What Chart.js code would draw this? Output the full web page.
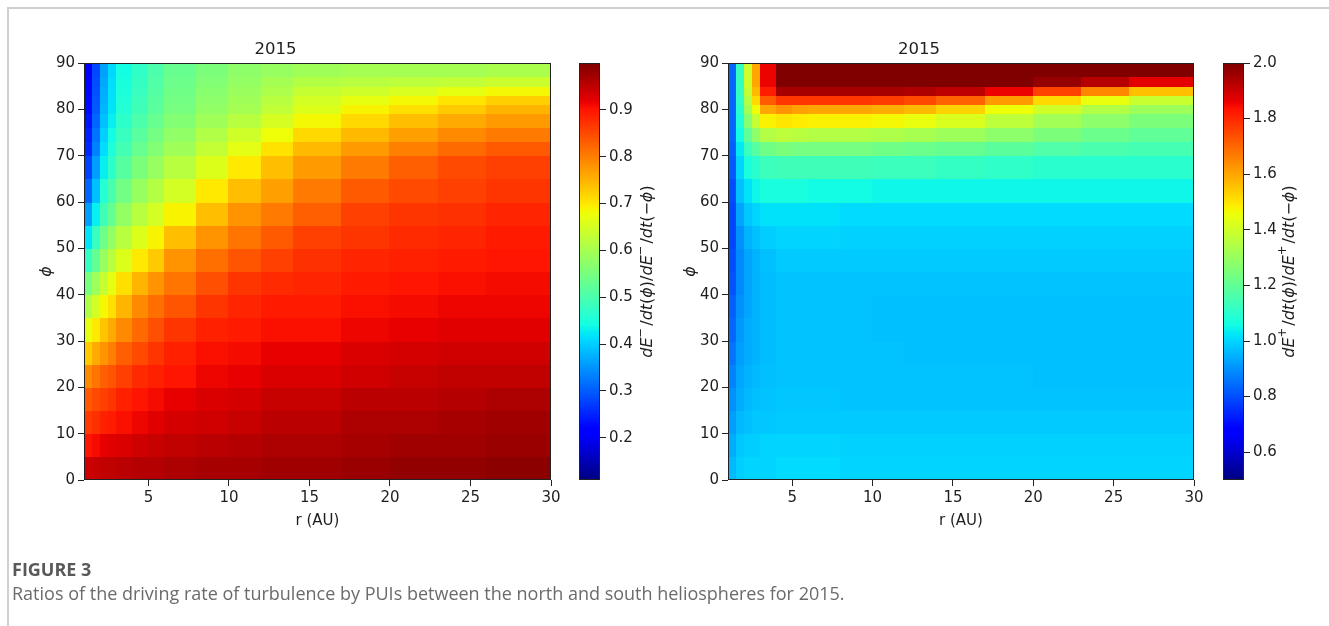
<!DOCTYPE html>
<html><head><meta charset="utf-8">
<script src="https://cdn.jsdelivr.net/npm/chart.js@4.4.0/dist/chart.umd.min.js"></script>
<style>
html,body{margin:0;padding:0;background:#fff;width:1329px;height:626px;overflow:hidden;position:relative;font-family:'Open Sans','Noto Sans',sans-serif}
canvas{position:absolute;left:0;top:0}
#frame{position:absolute;left:7px;top:7px;width:1340px;height:640px;border-top:2px solid #d0d0d0;border-left:2px solid #d0d0d0}
#figlabel{position:absolute;left:12px;top:557px;font-weight:700;font-size:18px;line-height:24px;color:#595959}
#caption{position:absolute;left:12px;top:581px;font-size:18px;line-height:24px;color:#6b6b6b}
</style></head><body>
<div id="frame"></div>
<canvas id="pL" width="1329" height="626"></canvas>
<canvas id="cbL" width="1329" height="626"></canvas>
<canvas id="pR" width="1329" height="626"></canvas>
<canvas id="cbR" width="1329" height="626"></canvas>
<div id="figlabel">FIGURE 3</div>
<div id="caption">Ratios of the driving rate of turbulence by PUIs between the north and south heliospheres for 2015.</div>
<script>
// ---------- data ----------
const title = '2015';
// cell edges (r in AU, phi in degrees)
const rEdges = [1,1.5,2,2.5,3,4,5,6,8,10,12,14,17,20,23,26,30];
const phiEdges = [0,5,10,15,20,25,30,35,40,45,50,55,60,65,70,73,76,79,81,83,85,87,90];
const xTicks = [5,10,15,20,25,30];
const phiTicks = [0,10,20,30,40,50,60,70,80,90];
const cbLeftTicks = [0.2,0.3,0.4,0.5,0.6,0.7,0.8,0.9];
const cbRightTicks = [0.6,0.8,1.0,1.2,1.4,1.6,1.8,2.0];
const leftRange = [0.11, 1.0];
const rightRange = [0.5, 2.0];
// left panel: dE-/dt(phi)/dE-/dt(-phi); one array per r cell, phi cells from bottom to top
const leftGrid = [
 [0.94,0.90,0.865,0.835,0.79,0.73,0.67,0.61,0.55,0.48,0.42,0.36,0.31,0.28,0.255,0.247,0.238,0.23,0.228,0.226,0.224,0.22],
 [0.945,0.91,0.875,0.85,0.81,0.76,0.70,0.65,0.59,0.53,0.48,0.43,0.39,0.36,0.334,0.322,0.31,0.30,0.296,0.292,0.288,0.283],
 [0.95,0.92,0.89,0.86,0.83,0.78,0.735,0.685,0.635,0.585,0.54,0.49,0.46,0.43,0.414,0.402,0.39,0.38,0.376,0.372,0.368,0.363],
 [0.95,0.925,0.895,0.87,0.84,0.80,0.76,0.71,0.67,0.62,0.58,0.53,0.50,0.47,0.454,0.442,0.43,0.42,0.418,0.416,0.414,0.411],
 [0.955,0.93,0.905,0.89,0.86,0.83,0.79,0.75,0.71,0.66,0.62,0.58,0.545,0.515,0.494,0.482,0.47,0.46,0.456,0.452,0.448,0.443],
 [0.96,0.94,0.915,0.90,0.88,0.85,0.82,0.79,0.75,0.70,0.66,0.62,0.585,0.555,0.533,0.518,0.503,0.49,0.486,0.482,0.478,0.473],
 [0.96,0.945,0.925,0.91,0.89,0.87,0.845,0.815,0.78,0.73,0.69,0.65,0.615,0.585,0.563,0.548,0.533,0.52,0.516,0.512,0.508,0.503],
 [0.965,0.95,0.935,0.92,0.90,0.89,0.87,0.84,0.81,0.78,0.74,0.69,0.65,0.62,0.593,0.578,0.563,0.55,0.546,0.542,0.538,0.533],
 [0.97,0.955,0.94,0.93,0.915,0.905,0.89,0.87,0.845,0.815,0.78,0.74,0.70,0.66,0.631,0.613,0.595,0.58,0.574,0.568,0.562,0.555],
 [0.97,0.96,0.945,0.935,0.92,0.91,0.895,0.885,0.87,0.84,0.81,0.78,0.74,0.70,0.668,0.644,0.62,0.60,0.594,0.588,0.582,0.575],
 [0.975,0.965,0.955,0.945,0.93,0.92,0.905,0.895,0.88,0.86,0.835,0.805,0.77,0.74,0.707,0.68,0.653,0.63,0.62,0.61,0.60,0.585],
 [0.975,0.965,0.955,0.945,0.93,0.92,0.905,0.895,0.885,0.875,0.86,0.83,0.805,0.775,0.745,0.715,0.685,0.66,0.65,0.635,0.615,0.595],
 [0.98,0.97,0.965,0.955,0.94,0.93,0.915,0.905,0.895,0.885,0.87,0.86,0.835,0.805,0.775,0.745,0.715,0.69,0.67,0.645,0.62,0.60],
 [0.985,0.975,0.965,0.955,0.945,0.935,0.92,0.91,0.90,0.89,0.88,0.87,0.85,0.83,0.80,0.77,0.74,0.71,0.685,0.655,0.625,0.60],
 [0.985,0.975,0.97,0.96,0.95,0.94,0.925,0.915,0.905,0.895,0.885,0.875,0.86,0.85,0.82,0.79,0.76,0.73,0.705,0.67,0.63,0.60],
 [0.99,0.98,0.975,0.965,0.95,0.94,0.925,0.915,0.91,0.90,0.895,0.885,0.87,0.86,0.835,0.805,0.775,0.75,0.725,0.685,0.64,0.605]
];
// right panel: dE+/dt(phi)/dE+/dt(-phi)
const rightGrid = [
 [0.96,0.94,0.92,0.90,0.88,0.86,0.84,0.83,0.81,0.80,0.79,0.79,0.80,0.82,0.83,0.84,0.84,0.84,0.84,0.84,0.84,0.84],
 [0.99,0.98,0.96,0.94,0.93,0.92,0.91,0.90,0.89,0.89,0.90,0.93,0.97,1.00,1.03,1.06,1.08,1.10,1.11,1.12,1.12,1.12],
 [1.00,0.99,0.97,0.96,0.95,0.94,0.94,0.93,0.93,0.93,0.95,0.98,1.02,1.07,1.13,1.20,1.27,1.32,1.35,1.38,1.40,1.40],
 [1.00,0.99,0.98,0.97,0.96,0.95,0.95,0.95,0.95,0.95,0.97,1.00,1.05,1.10,1.18,1.28,1.38,1.46,1.52,1.57,1.60,1.60],
 [1.00,1.00,0.98,0.975,0.97,0.965,0.965,0.965,0.965,0.97,0.99,1.02,1.07,1.13,1.23,1.35,1.48,1.60,1.72,1.82,1.86,1.86],
 [1.01,1.00,0.985,0.98,0.975,0.975,0.975,0.975,0.975,0.985,1.00,1.02,1.07,1.14,1.25,1.37,1.50,1.63,1.78,1.95,2.00,2.00],
 [1.01,1.00,0.985,0.98,0.975,0.975,0.975,0.975,0.975,0.985,1.00,1.02,1.07,1.14,1.24,1.36,1.49,1.61,1.78,1.95,2.00,2.00],
 [1.01,1.00,0.985,0.98,0.975,0.975,0.975,0.975,0.975,0.985,1.00,1.02,1.06,1.14,1.24,1.35,1.48,1.60,1.78,1.95,2.00,2.00],
 [1.00,0.995,0.985,0.975,0.975,0.975,0.975,0.975,0.975,0.985,0.995,1.01,1.06,1.14,1.24,1.35,1.48,1.60,1.78,1.95,2.00,2.00],
 [1.00,0.995,0.985,0.975,0.975,0.975,0.97,0.97,0.975,0.985,0.995,1.01,1.05,1.13,1.23,1.34,1.47,1.59,1.77,1.95,2.00,2.00],
 [1.00,0.995,0.985,0.975,0.975,0.97,0.97,0.97,0.975,0.985,0.995,1.01,1.05,1.13,1.22,1.33,1.45,1.57,1.75,1.94,2.00,2.00],
 [1.00,0.995,0.985,0.975,0.975,0.97,0.97,0.97,0.975,0.985,0.995,1.01,1.05,1.12,1.21,1.31,1.42,1.53,1.71,1.92,2.00,2.00],
 [1.00,0.995,0.985,0.975,0.975,0.97,0.97,0.97,0.975,0.985,0.995,1.01,1.05,1.11,1.19,1.28,1.37,1.46,1.62,1.86,2.00,2.00],
 [1.00,0.995,0.985,0.975,0.97,0.97,0.97,0.97,0.975,0.985,0.995,1.01,1.05,1.10,1.17,1.25,1.32,1.40,1.52,1.76,1.97,2.00],
 [1.00,0.995,0.985,0.975,0.97,0.97,0.97,0.97,0.975,0.985,0.995,1.01,1.05,1.10,1.16,1.22,1.28,1.35,1.45,1.65,1.93,2.00],
 [1.00,0.995,0.985,0.975,0.97,0.97,0.97,0.97,0.975,0.985,0.995,1.01,1.05,1.10,1.15,1.20,1.25,1.31,1.39,1.56,1.87,2.00]
];

// ---------- helpers ----------
const FONT = '"DejaVu Sans", sans-serif';
const INK = '#1e1e1e';
const TICK = 15;
Chart.defaults.color = INK;
Chart.defaults.font.family = FONT;
Chart.defaults.animation = false;

function jet(t){
  t = Math.min(1, Math.max(0, t));
  const seg = pts => { for (let i=1;i<pts.length;i++){ if (t<=pts[i][0]){ const [x0,y0]=pts[i-1],[x1,y1]=pts[i]; return y0+(y1-y0)*(t-x0)/(x1-x0);} } return pts[pts.length-1][1]; };
  const r = seg([[0,0],[0.35,0],[0.66,1],[0.89,1],[1,0.5]]);
  const g = seg([[0,0],[0.125,0],[0.375,1],[0.64,1],[0.91,0],[1,0]]);
  const b = seg([[0,0.5],[0.11,1],[0.34,1],[0.65,0],[1,0]]);
  return `rgb(${Math.round(r*255)},${Math.round(g*255)},${Math.round(b*255)})`;
}

function frameStroke(chart){
  const {ctx, chartArea:a} = chart;
  ctx.save(); ctx.strokeStyle = '#222'; ctx.lineWidth = 1;
  ctx.strokeRect(Math.round(a.left)+0.5, Math.round(a.top)+0.5, Math.round(a.right-a.left)-1, Math.round(a.bottom-a.top)-1);
  ctx.restore();
}

function heatPlugin(grid, range){
  return { id:'heat',
    beforeDatasetsDraw(chart){
      const {ctx, chartArea:a, scales:{x,y}} = chart;
      ctx.save(); ctx.beginPath(); ctx.rect(a.left, a.top, a.right-a.left, a.bottom-a.top); ctx.clip();
      grid.forEach((col,i)=>{
        const xa = x.getPixelForValue(rEdges[i]), xb = x.getPixelForValue(rEdges[i+1]);
        col.forEach((v,j)=>{
          const ya = y.getPixelForValue(phiEdges[j]), yb = y.getPixelForValue(phiEdges[j+1]);
          ctx.fillStyle = jet((v-range[0])/(range[1]-range[0]));
          const L=Math.floor(Math.min(xa,xb)), R=Math.ceil(Math.max(xa,xb)), T=Math.floor(Math.min(ya,yb)), B=Math.ceil(Math.max(ya,yb));
          ctx.fillRect(L,T,R-L,B-T);
        });
      });
      ctx.restore();
    },
    afterDatasetsDraw(chart){ frameStroke(chart); }
  };
}

function panel(id, grid, range, left, right){
  new Chart(document.getElementById(id), {
    type:'scatter',
    data:{datasets:[{data:[], pointRadius:0}]},
    options:{
      responsive:false, animation:false,
      layout:{padding:{left:left-84, right:1329-right, top:0, bottom:626-480-50}},
      plugins:{legend:{display:false}, tooltip:{enabled:false},
        title:{display:true, text:title, font:{size:16.5, weight:'normal', family:FONT}, color:INK, padding:{top:39.6, bottom:3.6}}},
      scales:{
        x:{type:'linear', min:1, max:30,
           afterBuildTicks: s => { s.ticks = xTicks.map(v=>({value:v})); },
           afterFit: s => { s.height = 50; },
           ticks:{font:{size:TICK}, color:INK, padding:3, maxRotation:0, callback:v=>String(v)},
           grid:{drawOnChartArea:false, drawTicks:true, tickLength:6, tickColor:'#222'},
           border:{display:false},
           title:{display:true, text:'r (AU)', font:{size:TICK}, color:INK, padding:{top:0,bottom:0}}},
        y:{type:'linear', min:0, max:90,
           afterBuildTicks: s => { s.ticks = phiTicks.map(v=>({value:v})); },
           afterFit: s => { s.width = 84; },
           ticks:{font:{size:TICK}, color:INK, padding:3, callback:v=>String(v)},
           grid:{drawOnChartArea:false, drawTicks:true, tickLength:6, tickColor:'#222'},
           border:{display:false},
           title:{display:true, text:'ϕ', font:{size:16, style:'italic'}, color:INK, padding:{top:37,bottom:0}}}
      }
    },
    plugins:[heatPlugin(grid, range)]
  });
}

function drawMathLabel(ctx, cx, cy, parts, size){
  ctx.save(); ctx.translate(cx, cy); ctx.rotate(-Math.PI/2);
  const fontFor = p => `${p.it?'italic ':''}${p.sup?(size*0.72).toFixed(1):size}px ${FONT}`;
  let total = 0;
  parts.forEach(p=>{ ctx.font = fontFor(p); p.w = ctx.measureText(p.t).width + (p.gap||0); total += p.w; });
  let xp = -total/2; ctx.textBaseline = 'middle'; ctx.fillStyle = INK;
  parts.forEach(p=>{ ctx.font = fontFor(p); ctx.fillText(p.t, xp, p.sup ? -size*0.42 : 0); xp += p.w; });
  ctx.restore();
}
function labelParts(sign){
  return [{t:'dE',it:1},{t:sign,sup:1,gap:2},{t:'/'},{t:'dt',it:1},{t:'('},{t:'ϕ',it:1},{t:')/'},
          {t:'dE',it:1},{t:sign,sup:1,gap:2},{t:'/'},{t:'dt',it:1},{t:'(−'},{t:'ϕ',it:1},{t:')'}];
}

function colorbar(id, range, ticks, left, right, labelX, sign){
  new Chart(document.getElementById(id), {
    type:'scatter',
    data:{datasets:[{data:[], pointRadius:0}]},
    options:{
      responsive:false, animation:false,
      layout:{padding:{left:left, right:1329-right-70, top:63, bottom:626-480}},
      plugins:{legend:{display:false}, tooltip:{enabled:false}},
      scales:{
        x:{type:'linear', display:false, min:0, max:1},
        y:{type:'linear', position:'right', min:range[0], max:range[1],
           afterBuildTicks: s => { s.ticks = ticks.map(v=>({value:v})); },
           afterFit: s => { s.width = 70; },
           ticks:{font:{size:TICK}, color:INK, padding:3, callback:v=>Number(v).toFixed(1)},
           grid:{drawOnChartArea:false, drawTicks:true, tickLength:6, tickColor:'#222'},
           border:{display:false}}
      }
    },
    plugins:[{id:'cb',
      beforeDatasetsDraw(chart){
        const {ctx, chartArea:a, scales:{y}} = chart;
        const N = 256;
        for (let k=0;k<N;k++){
          const v0 = range[0] + (range[1]-range[0])*k/N, v1 = range[0] + (range[1]-range[0])*(k+1)/N;
          const p0 = y.getPixelForValue(v0), p1 = y.getPixelForValue(v1);
          ctx.fillStyle = jet((k+0.5)/N);
          ctx.fillRect(a.left, Math.floor(p1), a.right-a.left, Math.ceil(p0)-Math.floor(p1));
        }
      },
      afterDatasetsDraw(chart){
        frameStroke(chart);
        drawMathLabel(chart.ctx, labelX, (chart.chartArea.top+chart.chartArea.bottom)/2, labelParts(sign), 16);
      }
    }]
  });
}

panel('pL', leftGrid, leftRange, 84, 551);
colorbar('cbL', leftRange, cbLeftTicks, 579, 600, 648, '−');
panel('pR', rightGrid, rightRange, 728, 1194);
colorbar('cbR', rightRange, cbRightTicks, 1223, 1244, 1290, '+');
</script>
</body></html>
